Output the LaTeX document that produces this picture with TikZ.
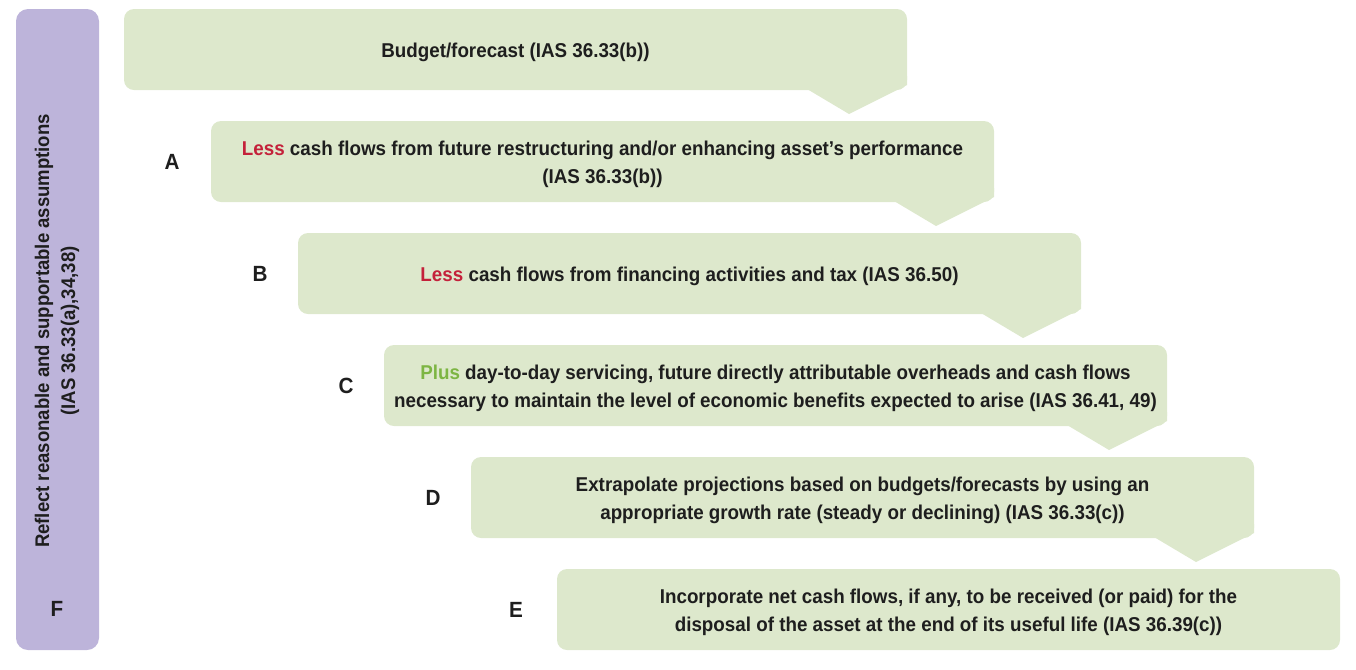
\documentclass[tikz,border=0pt]{standalone}
\usepackage{fontspec}
\setmainfont{Liberation Sans}[FakeStretch=0.94]
\usetikzlibrary{calc}
\definecolor{boxgreen}{HTML}{DDE8CC}
\definecolor{barpurple}{HTML}{BDB4DA}
\definecolor{lessred}{HTML}{C4213A}
\definecolor{plusgreen}{HTML}{7DB543}
\definecolor{textdark}{HTML}{1E1E1E}
\newcommand\mypointer[1]{%
  \fill[boxgreen] ($(#1.south east)+(-100,-1)$) -- ($(#1.south east)+(-58,24)$) -- ($(#1.south east)+(0,-5)$) -- ($(#1.south east)+(0,-14)$) -- ($(#1.south east)+(-100,-14)$) -- cycle;}
\begin{document}
\begin{tikzpicture}[x=0.75pt,y=-0.75pt,
  stepbox/.style={fill=boxgreen, rounded corners=7.5pt, minimum width=587.25pt, minimum height=60.75pt, inner sep=0pt, outer sep=0pt, anchor=north west},
  steptext/.style={align=center, inner sep=0pt, text=textdark, font=\bfseries\fontsize{15}{21}\selectfont},
  letter/.style={text=textdark, font=\bfseries\fontsize{16.5}{20}\selectfont},
  bartext/.style={text=textdark, rotate=90, align=center, font=\bfseries\fontsize{14.8}{19.5}\selectfont}]
\useasboundingbox (0,0) rectangle (1356,669);
% left bar
\fill[barpurple, rounded corners=9pt] (16,9) rectangle (99,650);
\node[bartext] (bartxt) at (57,331) {Reflect reasonable and supportable assumptions\\(IAS 36.33(a),34,38)};
\node[letter] (lF) at (57,609) {F};
% boxes
\node[stepbox] (b0) at (124,9) {};
\node[stepbox] (bA) at (211,121) {};
\node[stepbox] (bB) at (298,233) {};
\node[stepbox] (bC) at (384,345) {};
\node[stepbox] (bD) at (471,457) {};
\node[stepbox] (bE) at (557,569) {};
\mypointer{b0}
\mypointer{bA}
\mypointer{bB}
\mypointer{bC}
\mypointer{bD}
% texts
\node[steptext] (t0) at ($(b0.center)+(0,3)$) {Budget/forecast (IAS 36.33(b))};
\node[steptext] (tA) at ($(bA.center)+(0,3)$) {{\color{lessred}Less} cash flows from future restructuring and/or enhancing asset's performance\\(IAS 36.33(b))};
\node[steptext] (tB) at ($(bB.center)+(0,3)$) {{\color{lessred}Less} cash flows from financing activities and tax (IAS 36.50)};
\node[steptext] (tC) at ($(bC.center)+(0,3)$) {{\color{plusgreen}Plus} day-to-day servicing, future directly attributable overheads and cash flows\\necessary to maintain the level of economic benefits expected to arise (IAS 36.41, 49)};
\node[steptext] (tD) at ($(bD.center)+(0,3)$) {Extrapolate projections based on budgets/forecasts by using an\\appropriate growth rate (steady or declining) (IAS 36.33(c))};
\node[steptext] (tE) at ($(bE.center)+(0,3)$) {Incorporate net cash flows, if any, to be received (or paid) for the\\disposal of the asset at the end of its useful life (IAS 36.39(c))};
% letters
\node[letter] (lA) at (172,162) {A};
\node[letter] (lB) at (260,274) {B};
\node[letter] (lC) at (346,386) {C};
\node[letter] (lD) at (433,498) {D};
\node[letter] (lE) at (516,610) {E};
\end{tikzpicture}
\end{document}
